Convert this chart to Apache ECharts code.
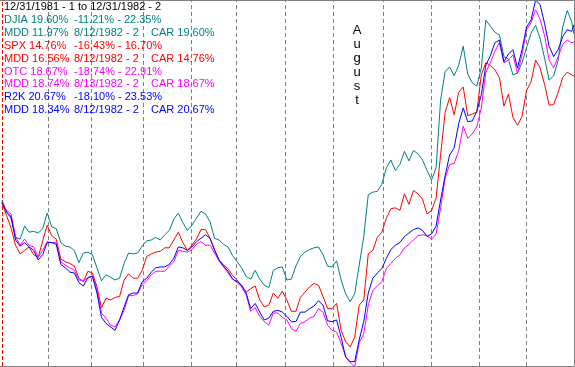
<!DOCTYPE html>
<html>
<head>
<meta charset="utf-8">
<script src="https://cdn.jsdelivr.net/npm/echarts@6/dist/echarts.min.js"></script>
<style>
html,body{margin:0;padding:0;background:#fff;}
#chart{width:575px;height:367px;}
</style>
</head>
<body>
<div id="chart"></div>
<script>
// trading day index (0 = 12/31/1981)
const days = [
  0,2,4,6,8,10,12,14,16,18,
  20,22,24,26,28,30,32,34,36,38,
  40,42,44,46,48,50,52,54,56,58,
  60,62,64,66,68,70,72,74,76,78,
  80,82,84,86,88,90,92,94,96,98,
  100,102,104,106,108,110,112,114,116,118,
  120,122,124,126,128,130,132,134,136,138,
  140,142,144,146,148,150,152,154,156,158,
  160,162,164,166,168,170,172,174,176,178,
  180,182,184,186,188,190,192,194,196,198,
  200,202,204,206,208,210,212,214,216,218,
  220,222,224,226,228,230,232,234,236,238,
  240,242,244,246,248,250,252,253
];
// % change since 12/31/1981
const djia = [
  0.5,-0.9,-1.6,-3.8,-4.0,-2.5,-3.2,-3.1,-3.3,-2.8,
  -1.0,-2.6,-2.8,-4.4,-4.8,-4.9,-5.3,-6.7,-5.6,-5.5,
  -5.8,-7.3,-8.8,-8.1,-8.4,-8.7,-8.5,-6.8,-5.6,-5.7,
  -5.6,-4.8,-4.2,-4.1,-3.8,-4.1,-3.5,-3.0,-1.7,-1.0,
  -2.1,-3.0,-2.4,-1.6,-0.8,-1.1,-2.0,-3.9,-4.1,-4.6,
  -4.9,-5.9,-6.6,-7.3,-8.3,-8.6,-7.6,-8.6,-9.3,-9.6,
  -7.6,-7.3,-7.2,-8.7,-8.6,-7.1,-6.0,-5.5,-5.2,-5.0,
  -4.9,-5.8,-7.1,-7.2,-6.5,-8.7,-10.3,-11.2,-10.3,-7.0,
  -3.7,1.1,1.4,1.5,2.3,4.2,5.1,3.9,4.6,6.1,
  5.0,6.2,5.8,5.1,3.9,2.8,4.2,12.0,15.3,15.8,
  14.8,16.0,18.2,15.0,14.0,13.6,15.7,21.2,20.5,19.8,
  19.5,17.0,16.7,14.9,15.1,16.3,18.0,19.7,20.6,19.1,
  16.8,14.3,14.8,16.6,20.4,22.3,21.0,19.6
];
const spx = [
  0.2,-1.3,-2.7,-4.7,-5.7,-5.3,-4.9,-5.8,-6.1,-4.2,
  -2.4,-3.6,-4.0,-6.3,-6.6,-6.8,-7.1,-8.5,-8.9,-7.7,
  -7.9,-9.5,-11.9,-10.8,-11.0,-10.7,-10.6,-8.7,-8.0,-8.5,
  -8.5,-7.6,-6.0,-5.7,-5.5,-5.4,-5.0,-5.0,-4.1,-3.2,
  -4.4,-5.3,-4.7,-4.0,-2.9,-2.9,-3.9,-5.3,-6.4,-7.0,
  -7.4,-8.2,-8.7,-9.4,-10.1,-9.7,-9.4,-11.0,-11.8,-11.6,
  -10.2,-10.8,-10.0,-11.0,-12.3,-12.3,-10.7,-10.1,-9.5,-9.1,
  -9.3,-10.6,-12.0,-12.0,-11.4,-14.5,-15.8,-16.4,-15.3,-11.6,
  -11.0,-5.7,-5.3,-3.8,-3.2,-1.6,-0.5,-0.4,-0.7,1.2,
  0.0,1.6,1.2,0.6,-1.1,-0.7,0.7,5.7,10.6,12.3,
  10.3,12.9,13.5,10.2,10.4,10.6,14.9,16.3,16.0,15.5,
  14.6,11.3,12.7,10.0,9.1,10.1,13.1,14.1,16.6,15.7,
  13.8,11.4,11.5,12.9,14.6,15.2,14.9,14.76
];
const otc = [
  0.2,-0.7,-1.1,-3.7,-4.7,-4.0,-4.7,-4.9,-6.1,-5.3,
  -4.3,-4.4,-4.4,-6.6,-7.0,-7.3,-7.6,-8.7,-8.8,-8.5,
  -8.2,-9.9,-12.5,-13.1,-13.9,-14.1,-13.3,-12.2,-10.5,-10.5,
  -10.3,-9.2,-8.8,-8.1,-7.7,-7.7,-7.7,-7.1,-6.6,-5.3,
  -5.4,-5.5,-5.2,-4.6,-4.3,-4.7,-4.7,-5.6,-6.5,-7.2,
  -7.9,-8.6,-9.0,-9.5,-10.4,-12.3,-11.9,-12.9,-13.5,-13.9,
  -12.5,-12.5,-13.0,-13.3,-14.3,-14.6,-13.7,-13.5,-13.1,-12.9,
  -12.0,-12.4,-13.9,-14.5,-14.7,-16.0,-17.5,-18.2,-18.7,-15.9,
  -14.9,-11.6,-9.9,-9.4,-8.9,-7.4,-6.8,-6.2,-5.8,-5.0,
  -4.6,-4.1,-3.6,-3.5,-3.6,-4.0,-3.4,-0.4,3.0,4.6,
  4.7,6.2,9.0,7.6,8.1,8.9,11.1,15.2,16.3,17.6,
  18.6,16.3,16.6,17.2,15.1,17.2,20.1,20.9,22.4,21.3,
  19.4,16.6,15.7,17.0,18.4,18.9,18.6,18.67
];
const r2k = [
  0.2,-0.9,-1.4,-4.1,-4.8,-4.4,-4.9,-5.3,-6.4,-5.8,
  -4.4,-4.4,-4.6,-6.9,-7.3,-7.8,-7.9,-9.0,-9.4,-8.4,
  -8.3,-10.2,-13.0,-13.7,-14.1,-14.5,-13.3,-11.8,-10.4,-10.2,
  -10.2,-8.9,-8.5,-7.8,-7.3,-7.2,-7.2,-6.9,-6.2,-4.9,
  -5.0,-5.3,-4.9,-4.3,-3.9,-3.5,-3.9,-5.2,-6.4,-7.1,
  -7.7,-8.6,-8.9,-9.3,-10.2,-12.0,-11.4,-12.4,-13.3,-13.1,
  -12.3,-12.2,-12.4,-12.9,-13.5,-13.5,-12.4,-12.4,-12.0,-11.7,
  -11.1,-11.6,-13.4,-13.5,-13.3,-15.3,-17.6,-18.1,-18.1,-15.6,
  -13.5,-10.2,-8.5,-7.9,-7.4,-6.2,-5.2,-4.7,-4.4,-3.7,
  -3.3,-2.9,-2.7,-3.0,-3.7,-3.4,-2.5,0.5,3.3,5.7,
  6.5,9.3,11.1,9.5,9.6,10.7,12.6,16.0,17.1,18.6,
  18.9,16.4,17.3,17.8,15.7,17.8,20.4,21.2,23.5,23.0,
  20.8,18.2,17.0,17.8,19.3,20.1,19.9,20.67
];
// month boundaries (trading-day index)
const startDay = 0;
const monthBounds = [20.5, 39.5, 62.5, 83.5, 103.5, 125.5, 146.5, 168.5, 190, 211, 232];
const eventLabel = 'August';

const headerLines = [
  {color: '#000000', cols: ['12/31/1981 - 1 to 12/31/1982 - 2']},
  {color: '#008080', cols: ['DJIA 19.60%', '-11.21% - 22.35%']},
  {color: '#008080', cols: ['MDD 11.97%', '8/12/1982 - 2', 'CAR 19.60%']},
  {color: '#FF0000', cols: ['SPX 14.76%', '-16.43% - 16.70%']},
  {color: '#FF0000', cols: ['MDD 16.56%', '8/12/1982 - 2', 'CAR 14.76%']},
  {color: '#FF00FF', cols: ['OTC 18.67%', '-18.74% - 22.91%']},
  {color: '#FF00FF', cols: ['MDD 18.74%', '8/13/1982 - 2', 'CAR 18.67%']},
  {color: '#0000FF', cols: ['R2K 20.67%', '-18.10% - 23.53%']},
  {color: '#0000FF', cols: ['MDD 18.34%', '8/12/1982 - 2', 'CAR 20.67%']}
];

const FONT = '"Liberation Sans", Arial, sans-serif';
const colX = [4, 74, 151];
const graphics = [];
headerLines.forEach((ln, i) => {
  const y = 7.3 + i * 12.85;
  ln.cols.forEach((t, j) => {
    graphics.push({
      type: 'text', x: colX[j], y: y, z: 100, silent: true,
      style: {text: t, fill: ln.color, font: '11px ' + FONT, textVerticalAlign: 'middle', textAlign: 'left'}
    });
  });
});
graphics.push({
  type: 'text', x: 357, y: 23, z: 100, silent: true,
  style: {text: eventLabel.split('').join('\n'), fill: '#000', font: '13px ' + FONT, lineHeight: 14, textAlign: 'center', textVerticalAlign: 'top'}
});
graphics.push({
  type: 'polyline', z: 90, silent: true,
  shape: {points: [[0, 0.5], [574.5, 0.5], [574.5, 366.5], [0, 366.5]]},
  style: {stroke: '#808080', lineWidth: 1, fill: null}
});

function pairs(vals) { return days.map((d, i) => [d, vals[i]]); }
function lineSeries(name, color, vals) {
  return {
    name: name, type: 'line', data: pairs(vals), showSymbol: false, symbol: 'none',
    lineStyle: {color: color, width: 1}, itemStyle: {color: color}, z: 5, clip: true
  };
}

const chart = echarts.init(document.getElementById('chart'), null, {renderer: 'canvas'});
chart.setOption({
  animation: false,
  backgroundColor: '#ffffff',
  grid: {left: 2, right: 1, top: 1, bottom: 1, containLabel: false},
  xAxis: {type: 'value', min: 0, max: 253, show: true,
    axisLine: {show: false}, axisTick: {show: false}, axisLabel: {show: false}, splitLine: {show: false}},
  yAxis: {type: 'value', min: -18.6, max: 23.4, show: true,
    axisLine: {show: false}, axisTick: {show: false}, axisLabel: {show: false}, splitLine: {show: false}},
  graphic: graphics,
  series: [
    {type: 'line', data: [], z: 1, silent: true,
      markLine: {silent: true, symbol: 'none', animation: false, label: {show: false},
        lineStyle: {color: '#808080', type: [4, 3], width: 1},
        data: monthBounds.map(v => ({xAxis: v}))}},
    {type: 'line', data: [], z: 1, silent: true,
      markLine: {silent: true, symbol: 'none', animation: false, label: {show: false},
        lineStyle: {color: '#FF0000', type: [4, 2], width: 1},
        data: [{xAxis: startDay}]}},
    lineSeries('DJIA', '#008080', djia),
    lineSeries('SPX', '#FF0000', spx),
    lineSeries('OTC', '#FF00FF', otc),
    lineSeries('R2K', '#0000FF', r2k)
  ]
});
</script>
</body>
</html>
